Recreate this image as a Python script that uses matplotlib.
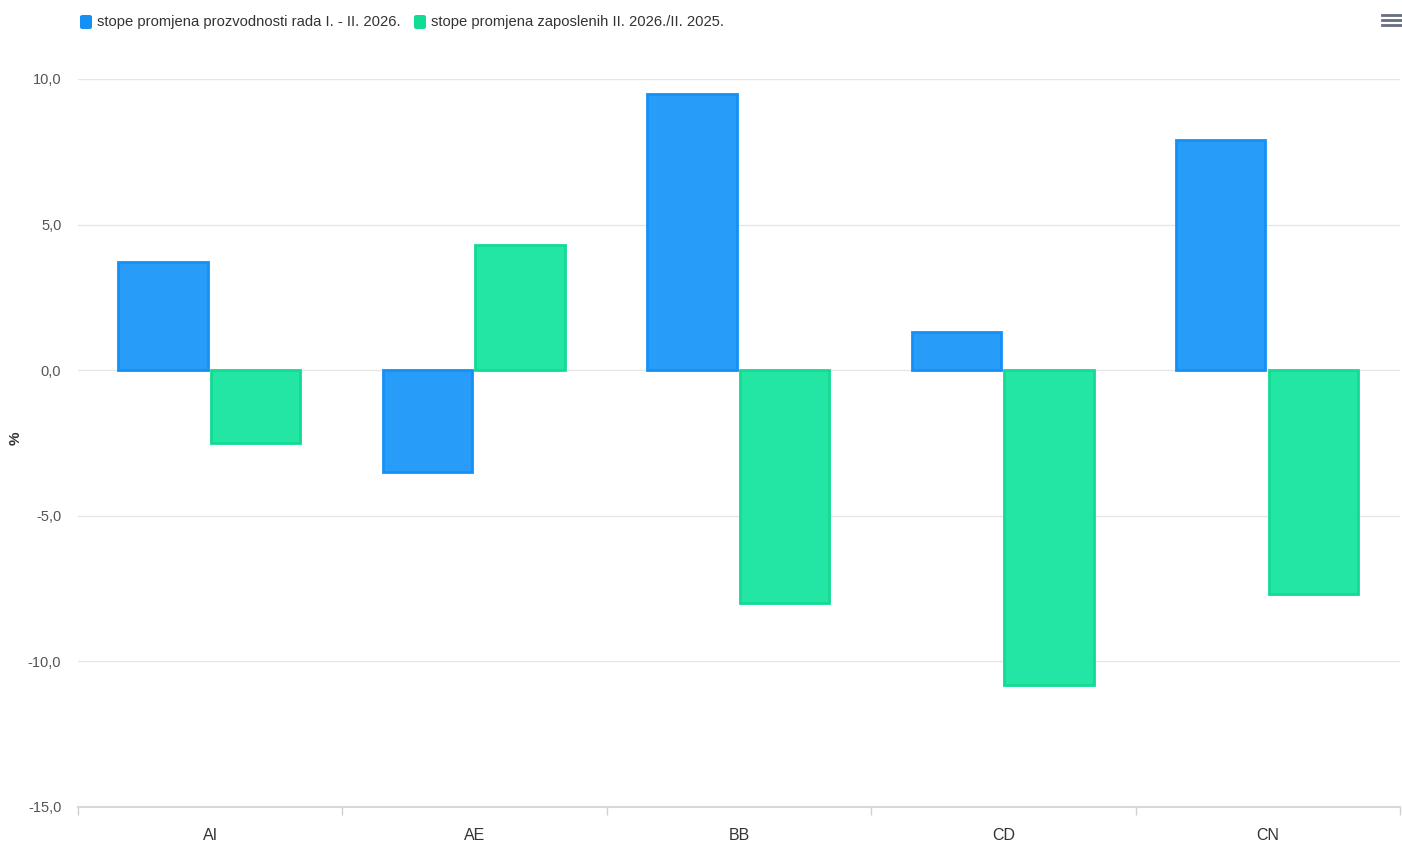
import numpy as np
import matplotlib.pyplot as plt
from matplotlib.patches import FancyBboxPatch
from matplotlib.lines import Line2D

plt.rcParams['font.family'] = ['Liberation Sans', 'DejaVu Sans']

categories = ['AI', 'AE', 'BB', 'CD', 'CN']
produktivnost = [3.7, -3.5, 9.5, 1.3, 7.9]
zaposleni = [-2.5, 4.3, -8.0, -10.8, -7.7]
series_names = ['stope promjena prozvodnosti rada I. - II. 2026.',
                'stope promjena zaposlenih II. 2026./II. 2025.']
yticks = [-15, -10, -5, 0, 5, 10]

W, H = 1402, 843
fig = plt.figure(figsize=(W / 100, H / 100), dpi=100)
ax = fig.add_axes([78 / W, (H - 807) / H, (1400 - 78) / W, (807 - 79) / H])

x = np.arange(len(categories))
bw = 0.338
ax.bar(x - 0.178, produktivnost, bw, color='#279df9', edgecolor='#1590f5',
       linewidth=2, zorder=3)
ax.bar(x + 0.172, zaposleni, bw, color='#24e6a4', edgecolor='#12db93',
       linewidth=2, zorder=3)

ax.set_xlim(-0.5, len(categories) - 0.5)
ax.set_ylim(-15, 10)
ax.set_yticks(yticks)
ax.set_yticklabels([f'{v:.1f}'.replace('.', ',') for v in yticks])
ax.grid(axis='y', color='#e6e6e6', linewidth=1, zorder=0)
ax.tick_params(axis='y', length=0, pad=12, labelsize=10.5, labelcolor='#555555')

ax.set_xticks(np.arange(-0.5, len(categories)), minor=False)
ax.set_xticklabels([])
ax.set_xticks(x, minor=True)
ax.set_xticklabels(categories, minor=True)
ax.tick_params(axis='x', which='major', length=6, color='#d0d0d0', width=1)
ax.tick_params(axis='x', which='minor', length=0, pad=15, labelsize=11.5,
               labelcolor='#333333')

for s in ['top', 'right', 'left']:
    ax.spines[s].set_visible(False)
ax.spines['bottom'].set_color('#d8d8d8')
ax.spines['bottom'].set_linewidth(1.5)

fig.text(16 / W, (H - 438) / H, '%', fontsize=11, fontweight='bold',
         color='#333333', rotation=90, ha='center', va='center')

# legend
leg_items = [(80, '#1590f5', series_names[0]), (414, '#12db93', series_names[1])]
for lx, col, name in leg_items:
    fig.patches.append(FancyBboxPatch((lx / W, (H - 29) / H), 12 / W, 14 / H,
                                      boxstyle='round,pad=0,rounding_size=0.002',
                                      transform=fig.transFigure,
                                      facecolor=col, edgecolor='none'))
    fig.text((lx + 17) / W, (H - 22) / H, name, fontsize=10.6, color='#333333',
             va='center', ha='left')

# menu icon
for yy in [15, 20, 25]:
    fig.add_artist(Line2D([1382 / W, 1401 / W], [(H - yy) / H] * 2,
                          color='#666f80', linewidth=2))

fig.savefig('out.png', dpi=100)
